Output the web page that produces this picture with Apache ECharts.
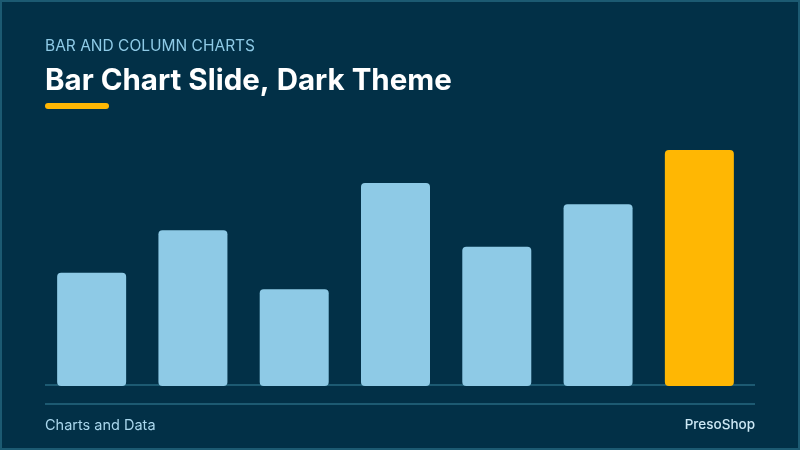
<!DOCTYPE html>
<html>
<head>
<meta charset="utf-8">
<script src="https://cdn.jsdelivr.net/npm/echarts@6/dist/echarts.min.js"></script>
<style>
  html, body { margin: 0; padding: 0; background: #023047; }
  #chart { width: 800px; height: 450px; }
</style>
</head>
<body>
<div id="chart"></div>
<script>
// data
const categories = ['A', 'B', 'C', 'D', 'E', 'F', 'G'];
const values = [48, 66, 41, 86, 59, 77, 100];
const highlightIndex = 6;

const chart = echarts.init(document.getElementById('chart'), null, { renderer: 'canvas' });

const option = {
  backgroundColor: '#023047',
  animation: false,
  grid: { left: 41, right: 50, top: 150, bottom: 64 },
  xAxis: {
    type: 'category',
    data: categories,
    axisLine: { show: false },
    axisTick: { show: false },
    axisLabel: { show: false }
  },
  yAxis: {
    type: 'value',
    min: 0,
    max: 100,
    show: false,
    splitLine: { show: false }
  },
  series: [{
    type: 'bar',
    barWidth: 69,
    z: 3,
    data: values.map((v, i) => ({
      value: v,
      itemStyle: { color: i === highlightIndex ? '#ffb703' : '#8ecae6' }
    })),
    itemStyle: { borderRadius: 4 }
  }],
  graphic: [
    // frame
    { type: 'rect', shape: { x: 1, y: 1, width: 798, height: 448 },
      style: { fill: 'none', stroke: '#1c5a72', lineWidth: 2 }, z: 10 },
    { type: 'text', left: 45, top: 38,
      style: { text: 'BAR AND COLUMN CHARTS', fill: '#8ecae6', font: '15.5px Inter' } },
    { type: 'text', left: 45, top: 66,
      style: { text: 'Bar Chart Slide, Dark Theme', fill: '#ffffff', font: 'bold 29.5px Inter' } },
    { type: 'rect', shape: { x: 45, y: 103, width: 64, height: 6, r: 3 },
      style: { fill: '#ffb703' } },
    // baseline
    { type: 'line', shape: { x1: 45, y1: 385, x2: 755, y2: 385 },
      style: { stroke: '#1d5a72', lineWidth: 2 }, z: 1 },
    // footer rule
    { type: 'line', shape: { x1: 45, y1: 404, x2: 755, y2: 404 },
      style: { stroke: '#1d5a72', lineWidth: 2 } },
    { type: 'text', left: 45, top: 418,
      style: { text: 'Charts and Data', fill: '#a9d6ec', font: '14.5px Inter' } },
    { type: 'text', right: 45, top: 418,
      style: { text: 'PresoShop', fill: '#cde8f5', font: '500 13.5px Inter' } }
  ]
};

chart.setOption(option);
</script>
</body>
</html>
